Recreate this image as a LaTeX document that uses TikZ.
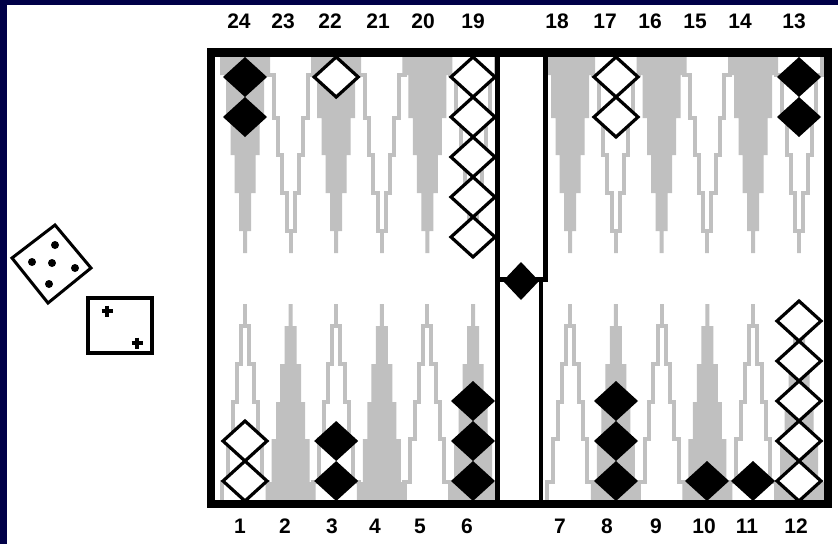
\documentclass[tikz,border=0pt]{standalone}
\usepackage{fontspec}
\setmainfont{Liberation Sans}
\definecolor{grigio}{RGB}{192,192,192}
\definecolor{blunotte}{RGB}{0,0,72}

\newcommand{\punta}[5]{%
  \path[#1] ({#2-25+#5},#3) -- ({#2-25+#5},{#3+#4*18}) -- ({#2-19+#5},{#3+#4*18})
    -- ({#2-19+#5},{#3+#4*61}) -- ({#2-14.5+#5},{#3+#4*61}) -- ({#2-14.5+#5},{#3+#4*98})
    -- ({#2-10.5+#5},{#3+#4*98}) -- ({#2-10.5+#5},{#3+#4*136}) -- ({#2-6+#5},{#3+#4*136})
    -- ({#2-6+#5},{#3+#4*174}) -- ({#2-2+#5},{#3+#4*174}) -- ({#2-2+#5},{#3+#4*196})
    -- ({#2+2-#5},{#3+#4*196}) -- ({#2+2-#5},{#3+#4*174}) -- ({#2+6-#5},{#3+#4*174})
    -- ({#2+6-#5},{#3+#4*136}) -- ({#2+10.5-#5},{#3+#4*136}) -- ({#2+10.5-#5},{#3+#4*98})
    -- ({#2+14.5-#5},{#3+#4*98}) -- ({#2+14.5-#5},{#3+#4*61}) -- ({#2+19-#5},{#3+#4*61})
    -- ({#2+19-#5},{#3+#4*18}) -- ({#2+25-#5},{#3+#4*18}) -- ({#2+25-#5},#3);}
\newcommand{\pedina}[3]{%
  \path[#1] (#2,{#3-20}) -- ({#2+22},{#3}) -- (#2,{#3+20}) -- ({#2-22},{#3}) -- cycle;}

\begin{document}
\begin{tikzpicture}[x=1pt, y=-1pt,
    piena/.style={fill=grigio},
    vuota/.style={draw=grigio, line width=4pt, line join=miter},
    nera/.style={fill=black},
    bianca/.style={fill=white, draw=black, line width=3.2pt},
    etichetta/.style={font=\fontsize{21}{21}\selectfont\bfseries, inner sep=0pt}]

  \useasboundingbox (0,0) rectangle (838,544);
  \fill[white] (0,0) rectangle (838,544);
  \fill[blunotte] (0,0) rectangle (7,544);
  \fill[blunotte] (0,0) rectangle (838,4.5);

  \foreach \i in {0,...,5} {
    \pgfmathsetmacro\xs{245+45.6*\i}
    \pgfmathsetmacro\xd{570+45.8*\i}
    \ifodd\i
      \punta{vuota}{\xs}{57}{1}{2} \punta{vuota}{\xd}{57}{1}{2}
      \punta{piena}{\xs}{500}{-1}{0} \punta{piena}{\xd}{500}{-1}{0}
    \else
      \punta{piena}{\xs}{57}{1}{0} \punta{piena}{\xd}{57}{1}{0}
      \punta{vuota}{\xs}{500}{-1}{2} \punta{vuota}{\xd}{500}{-1}{2}
    \fi
  }

  \foreach \k in {0,1} { \pedina{nera}{245}{77+40*\k} \pedina{nera}{799}{77+40*\k} }
  \pedina{bianca}{336.2}{77}
  \foreach \k in {0,...,4} { \pedina{bianca}{473}{77+40*\k} }
  \foreach \k in {0,1} { \pedina{bianca}{616}{77+40*\k} }

  \foreach \k in {0,1} { \pedina{bianca}{245}{481-40*\k} \pedina{nera}{336.2}{481-40*\k} }
  \foreach \k in {0,1,2} { \pedina{nera}{473}{481-40*\k} \pedina{nera}{616}{481-40*\k} }
  \pedina{nera}{707}{481}
  \pedina{nera}{753}{481}
  \foreach \k in {0,...,4} { \pedina{bianca}{799}{481-40*\k} }

  \draw[line width=8.5pt] (211,52.5) rectangle (828,504);
  \draw[line width=5pt] (497.5,52.5) -- (497.5,504);
  \draw[line width=5pt] (545.5,52.5) -- (545.5,281);
  \draw[line width=4.5pt] (541,279) -- (541,504);
  \draw[line width=4.5pt] (498,279.5) -- (548,279.5);
  \fill (521,262) -- (539,281) -- (521,300) -- (503,281) -- cycle;

  \foreach \x/\n in {239/24,283/23,330/22,378/21,423/20,473/19,
                     557/18,605/17,650/16,695/15,740/14,794/13}
    { \node[etichetta] (t\n) at (\x,21) {\n}; }
  \foreach \x/\n in {240/1,285/2,332/3,375/4,420/5,467/6,
                     560/7,607/8,656/9,704/10,747/11,796/12}
    { \node[etichetta] (b\n) at (\x,526) {\n}; }

  \draw[line width=3pt, fill=white, line join=miter] (55,225) -- (91,268) -- (48,303) -- (12,258) -- cycle;
  \foreach \p in {(55,245),(32,262),(52,263),(75,268),(49,284)}
    { \fill \p circle (4); }
  \draw[line width=4pt] (88,298) rectangle (152,353);
  \foreach \p in {(107,311),(137,343)}
    { \draw[line width=3.5pt] \p ++(-5.5,0) -- ++(11,0) \p ++(0,-5.5) -- ++(0,11); }
\end{tikzpicture}
\end{document}
